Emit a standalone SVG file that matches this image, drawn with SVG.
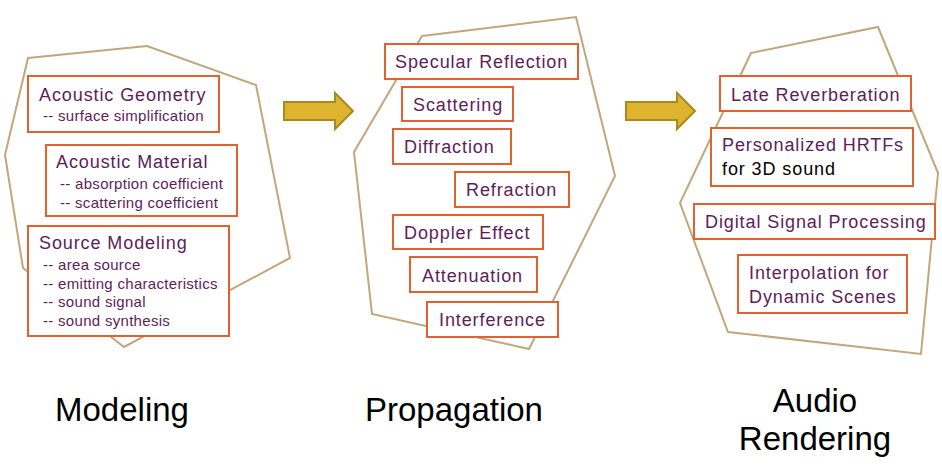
<svg xmlns="http://www.w3.org/2000/svg" width="942" height="472" viewBox="0 0 942 472">
<style>
.poly{fill:none;stroke:#C4A67C;stroke-width:2}
.box{fill:#fff;stroke:#E2622F;stroke-width:2}
.t{font-family:"Liberation Sans",Arial,sans-serif;font-size:18px;fill:#5C1E5C;letter-spacing:0.9px}
.s{font-family:"Liberation Sans",Arial,sans-serif;font-size:15px;fill:#5C1E5C;letter-spacing:0.3px}
.big{font-family:"Liberation Sans",Arial,sans-serif;font-size:33px;fill:#000}
.arrow{fill:#DDB32F;stroke:#A88A1E;stroke-width:2}
</style>
<rect width="942" height="472" fill="#fff"/>
<g id="regions">
<polygon class="poly" points="28,58 147,46 256,85 290,258 124,347 23,268 5,155"/>
<polygon class="poly" points="422,36 576,17 615,176 529,349 372,314 354,152"/>
<polygon class="poly" points="751,53 878,27 938,173 921,354 728,332 680,203"/>
</g>
<g id="connectors">
<polygon class="arrow" points="284,102 335,102 335,93 353,111 335,129 335,120 284,120"/>
<polygon class="arrow" points="626,102 677,102 677,93 695,111 677,129 677,120 626,120"/>
</g>
<g id="acoustic-geometry">
<rect class="box" x="28" y="76" width="191" height="56"/>
<text class="t" x="39" y="101">Acoustic Geometry</text>
<text class="s" x="43" y="121">-- surface simplification</text>
</g>
<g id="acoustic-material">
<rect class="box" x="46" y="145" width="191" height="71"/>
<text class="t" x="56" y="168">Acoustic Material</text>
<text class="s" x="60" y="189">-- absorption coefficient</text>
<text class="s" x="60" y="208">-- scattering coefficient</text>
</g>
<g id="source-modeling">
<rect class="box" x="28" y="226" width="201" height="110"/>
<text class="t" x="39" y="249">Source Modeling</text>
<text class="s" x="43" y="270">-- area source</text>
<text class="s" x="43" y="288.5">-- emitting characteristics</text>
<text class="s" x="43" y="307">-- sound signal</text>
<text class="s" x="43" y="325.5">-- sound synthesis</text>
</g>
<g id="specular-reflection">
<rect class="box" x="385" y="44" width="193" height="35"/>
<text class="t" x="395" y="68">Specular Reflection</text>
</g>
<g id="scattering">
<rect class="box" x="402" y="87" width="111" height="34"/>
<text class="t" x="413" y="111">Scattering</text>
</g>
<g id="diffraction">
<rect class="box" x="393" y="129" width="118" height="35"/>
<text class="t" x="404" y="153">Diffraction</text>
</g>
<g id="refraction">
<rect class="box" x="455" y="172" width="114" height="35"/>
<text class="t" x="466" y="196">Refraction</text>
</g>
<g id="doppler-effect">
<rect class="box" x="393" y="215" width="150" height="34"/>
<text class="t" x="404" y="239">Doppler Effect</text>
</g>
<g id="attenuation">
<rect class="box" x="410" y="257" width="127" height="35"/>
<text class="t" x="422" y="281.5">Attenuation</text>
</g>
<g id="interference">
<rect class="box" x="427" y="302" width="131" height="35"/>
<text class="t" x="439" y="325.5">Interference</text>
</g>
<g id="late-reverberation">
<rect class="box" x="720" y="76" width="191" height="35"/>
<text class="t" x="731" y="100.5">Late Reverberation</text>
</g>
<g id="personalized-hrtfs">
<rect class="box" x="711" y="128" width="202" height="58"/>
<text class="t" x="722" y="150.5">Personalized HRTFs</text>
<text class="t" x="722" y="175" style="fill:#000">for 3D sound</text>
</g>
<g id="digital-signal-processing">
<rect class="box" x="694" y="204" width="241" height="35"/>
<text class="t" x="705" y="227.5">Digital Signal Processing</text>
</g>
<g id="interpolation">
<rect class="box" x="738" y="255" width="169" height="58"/>
<text class="t" x="749" y="278.5">Interpolation for</text>
<text class="t" x="749" y="302.5">Dynamic Scenes</text>
</g>
<g id="labels">
<text class="big" x="55" y="421">Modeling</text>
<text class="big" x="365" y="421">Propagation</text>
<text class="big" x="815" y="412" text-anchor="middle">Audio</text>
<text class="big" x="815" y="450" text-anchor="middle">Rendering</text>
</g>
</svg>
